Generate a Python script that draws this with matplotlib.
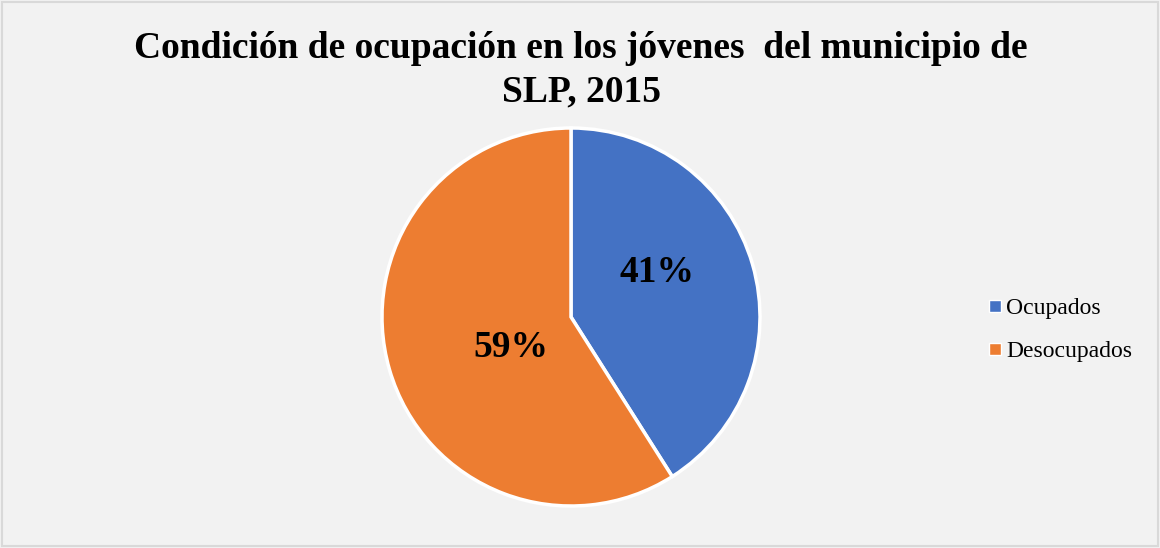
import matplotlib.pyplot as plt
from matplotlib.lines import Line2D
from matplotlib.patches import Rectangle

categorias = ['Ocupados', 'Desocupados']
porcentajes = [41, 59]
colores = ['#4472C4', '#ED7D31']
titulo = 'Condición de ocupación en los jóvenes  del municipio de\nSLP, 2015'

plt.rcParams['font.family'] = ['Liberation Serif', 'DejaVu Serif']

W, H = 1160, 548
fig = plt.figure(figsize=(W / 100, H / 100), dpi=100)
fig.patch.set_facecolor('#F2F2F2')
fig.patches.append(Rectangle((0.002, 0.004), 0.996, 0.993, transform=fig.transFigure,
                             fill=False, edgecolor='#D9D9D9', linewidth=1.5))

# pie centre (571, 317), radius 189 px
cx, cy, r = 571, 317, 189
ax = fig.add_axes([(cx - r) / W, (H - cy - r) / H, 2 * r / W, 2 * r / H])
ax.set_facecolor('none')

wedges, textos, pct = ax.pie(porcentajes, colors=colores, startangle=90, counterclock=False,
                             autopct='%1.0f%%', pctdistance=0.5,
                             wedgeprops=dict(edgecolor='white', linewidth=2.5),
                             textprops=dict(fontsize=27, fontweight='bold', color='black'))
# Excel-style label placement
posiciones = [(0.455, 0.233), (-0.317, -0.164)]
for t, p in zip(pct, posiciones):
    t.set_position(p)
ax.set_xlim(-1, 1)
ax.set_ylim(-1, 1)
ax.set_aspect('equal')

fig.text(581 / W, 1 - 70 / H, titulo, ha='center', va='center', fontsize=27,
         fontweight='bold', linespacing=1.32)

handles = [Line2D([], [], marker='s', linestyle='none', markersize=8,
                  markerfacecolor=c, markeredgecolor='white', markeredgewidth=1.0)
           for c in colores]
fig.legend(handles, categorias, loc='center left', bbox_to_anchor=(978 / W, 1 - 330 / H),
           frameon=False, fontsize=17, handlelength=0.6, handletextpad=0.2,
           labelspacing=0.9, borderaxespad=0)

fig.savefig('out.png', dpi=100, facecolor=fig.get_facecolor())
